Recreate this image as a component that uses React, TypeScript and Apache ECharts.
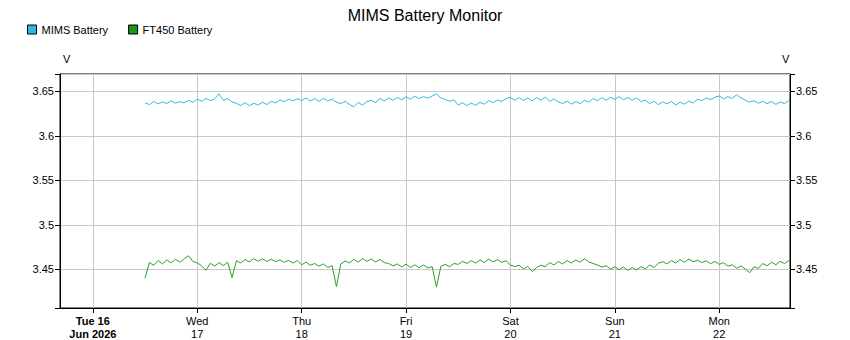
import React, { useEffect, useRef } from "react";
import * as echarts from "echarts";

const TITLE = "MIMS Battery Monitor";
const SERIES_NAMES = ["MIMS Battery", "FT450 Battery"];
const UNIT = "V";
const WEEKDAYS = ["Sun", "Mon", "Tue", "Wed", "Thu", "Fri", "Sat"];
// hourly samples, starting 16 Jun 2026 12:00
const START = [2026, 5, 16, 12];
const STEP_HOURS = 1;

const mims = [
  3.6372, 3.635, 3.6385, 3.6358, 3.638, 3.6362, 3.6393, 3.6366, 3.6382, 3.637, 3.6398, 3.6375,
  3.6412, 3.6388, 3.642, 3.6395, 3.6415, 3.6472, 3.6398, 3.6418, 3.638, 3.6365, 3.634, 3.6372,
  3.6338, 3.6365, 3.6345, 3.6378, 3.635, 3.6388, 3.6368, 3.6402, 3.638, 3.6412, 3.6392, 3.6415,
  3.6395, 3.6425, 3.639, 3.6418, 3.6385, 3.6422, 3.6392, 3.641, 3.6378, 3.636, 3.6388, 3.6352,
  3.6325, 3.6375, 3.6345, 3.6385, 3.6398, 3.6372, 3.642, 3.6392, 3.6425, 3.6398, 3.643, 3.6405,
  3.6438, 3.6412, 3.6445, 3.6418, 3.644, 3.6422, 3.6448, 3.647, 3.6425, 3.6408, 3.6388, 3.6402,
  3.6345, 3.6372, 3.6338, 3.6368, 3.6342, 3.6375, 3.6355, 3.6395, 3.6372, 3.6402, 3.6385, 3.6418,
  3.6432, 3.64, 3.6428, 3.6395, 3.6425, 3.6392, 3.643, 3.6398, 3.6435, 3.6388, 3.6415, 3.638,
  3.6362, 3.639, 3.6355, 3.6385, 3.636, 3.6398, 3.6378, 3.6418, 3.6395, 3.6428, 3.64, 3.6432,
  3.641, 3.6438, 3.6405, 3.643, 3.6398, 3.6425, 3.6385, 3.64, 3.6362, 3.6388, 3.635, 3.638,
  3.6358, 3.6385, 3.6345, 3.6378, 3.6355, 3.639, 3.6368, 3.6412, 3.6395, 3.6425, 3.6405, 3.6432,
  3.6448, 3.6415, 3.644, 3.642, 3.6462, 3.6425, 3.64, 3.6378, 3.6395, 3.6365, 3.6388, 3.636,
  3.6385, 3.6352, 3.638, 3.6362, 3.6395,
];

const ft450 = [
  3.44, 3.4575, 3.4545, 3.4598, 3.456, 3.4605, 3.4572, 3.4612, 3.458, 3.4618, 3.4652, 3.4588,
  3.4572, 3.454, 3.4488, 3.4568, 3.4535, 3.4575, 3.4542, 3.458, 3.4408, 3.4595, 3.4572, 3.461,
  3.4582, 3.462, 3.459, 3.4618, 3.4588, 3.4612, 3.4585, 3.4605, 3.4578, 3.46, 3.457, 3.4598,
  3.455, 3.458, 3.4545, 3.4565, 3.4535, 3.456, 3.452, 3.454, 3.4305, 3.456, 3.4592, 3.4572,
  3.4612, 3.458, 3.462, 3.4588, 3.4615, 3.4582, 3.461, 3.4575, 3.4565, 3.4538, 3.456, 3.4525,
  3.4558, 3.452, 3.455, 3.4518, 3.4548, 3.4515, 3.453, 3.43, 3.4532, 3.4555, 3.4528, 3.4565,
  3.4555, 3.459, 3.4565, 3.4598, 3.457, 3.4605, 3.4575, 3.4615, 3.4582, 3.4608, 3.4578, 3.4595,
  3.4548, 3.453, 3.4545, 3.4505, 3.4532, 3.4475, 3.452, 3.4545, 3.4528, 3.4575, 3.4548, 3.4588,
  3.456, 3.4598, 3.457, 3.4605, 3.4578, 3.4618, 3.4582, 3.4565, 3.4548, 3.4525, 3.454, 3.4502,
  3.453, 3.4495, 3.4525, 3.4488, 3.452, 3.4492, 3.453, 3.4505, 3.4548, 3.452, 3.4568, 3.4585,
  3.456, 3.4598, 3.457, 3.461, 3.4578, 3.4615, 3.4585, 3.4602, 3.4575, 3.4595, 3.4562, 3.4588,
  3.4555, 3.4575, 3.4535, 3.455, 3.4512, 3.4538, 3.4502, 3.4462, 3.4528, 3.451, 3.4565, 3.454,
  3.458, 3.455, 3.459, 3.4565, 3.4598,
];

const FONT = "Liberation Sans, Arial, sans-serif";

export default function App() {
  const ref = useRef<HTMLDivElement>(null);
  useEffect(() => {
    document.body.style.margin = "0";
    if (!ref.current) return;
    const chart = echarts.init(ref.current, null, { renderer: "svg" });
    const t0 = new Date(START[0], START[1], START[2], START[3]).getTime();
    const toPts = (arr: number[]) =>
      arr.map((v, i) => [t0 + i * STEP_HOURS * 3600000, v]);
    const xMin = new Date(2026, 5, 15, 16, 27).getTime();
    const xMax = new Date(2026, 5, 22, 16, 16).getTime();
    const yMin = 3.4065;
    const yMax = 3.6694;

    const yLabelFmt = (v: number) => {
      const k = Math.round(v / 0.05);
      if (Math.abs(v - k * 0.05) > 1e-6) return "";
      return String(parseFloat(v.toFixed(2)));
    };

    const yAxisBase = {
      type: "value",
      min: yMin,
      max: yMax,
      splitNumber: 5,
      axisLine: { show: true, lineStyle: { color: "#000", width: 1 } },
      axisTick: { show: true, length: 5, lineStyle: { color: "#000" } },
      axisLabel: {
        color: "#000",
        fontSize: 11,
        fontFamily: FONT,
        margin: 6,
        formatter: yLabelFmt,
      },
    };

    chart.setOption({
      animation: false,
      backgroundColor: "#fff",
      title: {
        text: TITLE,
        left: "center",
        top: 2,
        textStyle: { fontSize: 16, fontWeight: "normal", color: "#000", fontFamily: FONT },
      },
      legend: {
        left: 22,
        top: 19,
        itemWidth: 9,
        itemHeight: 9,
        itemGap: 20,
        icon: "rect",
        textStyle: { fontSize: 11, color: "#000", fontFamily: FONT },
        data: SERIES_NAMES.map((n) => ({
          name: n,
          itemStyle: { borderColor: "#000", borderWidth: 1 },
        })),
      },
      grid: {
        show: true,
        left: 60,
        right: 60,
        top: 74,
        bottom: 32,
        borderColor: "#000",
        borderWidth: 1,
        containLabel: false,
      },
      graphic: [
        { type: "text", left: 63, top: 53, style: { text: UNIT, fontSize: 11, fill: "#000", fontFamily: FONT } },
        { type: "text", left: 782, top: 53, style: { text: UNIT, fontSize: 11, fill: "#000", fontFamily: FONT } },
      ],
      xAxis: {
        type: "time",
        min: xMin,
        max: xMax,
        minInterval: 86400000,
        maxInterval: 86400000,
        axisLine: { show: true, lineStyle: { color: "#000" } },
        axisTick: { show: true, length: 5, lineStyle: { color: "#000" } },
        splitLine: { show: true, lineStyle: { color: "#c8c8c8", width: 1 } },
        axisLabel: {
          color: "#000",
          fontSize: 11,
          fontFamily: FONT,
          margin: 6,
          lineHeight: 13,
          showMinLabel: false,
          showMaxLabel: false,
          formatter: (value: number) => {
            const d = new Date(value);
            if (d.getHours() !== 0 || d.getMinutes() !== 0) return "";
            if (d.getDate() === 16) return "{b|Tue 16}\n{b|Jun 2026}";
            return WEEKDAYS[d.getDay()] + "\n" + d.getDate();
          },
          rich: {
            b: { fontWeight: "bold", fontSize: 11, fontFamily: FONT, color: "#000", lineHeight: 13 },
          },
        },
      },
      yAxis: [
        {
          ...yAxisBase,
          position: "left",
          splitLine: { show: true, lineStyle: { color: "#c8c8c8", width: 1 } },
        },
        {
          ...yAxisBase,
          position: "right",
          splitLine: { show: false },
        },
      ],
      series: [
        {
          name: SERIES_NAMES[0],
          type: "line",
          data: toPts(mims),
          showSymbol: false,
          symbol: "none",
          color: "#35b5e5",
          lineStyle: { width: 1, color: "#35b5e5" },
        },
        {
          name: SERIES_NAMES[1],
          type: "line",
          data: toPts(ft450),
          showSymbol: false,
          symbol: "none",
          color: "#1a941a",
          lineStyle: { width: 1, color: "#28a028" },
        },
      ],
    });
    return () => chart.dispose();
  }, []);
  return <div ref={ref} style={{ width: 850, height: 340 }} />;
}
